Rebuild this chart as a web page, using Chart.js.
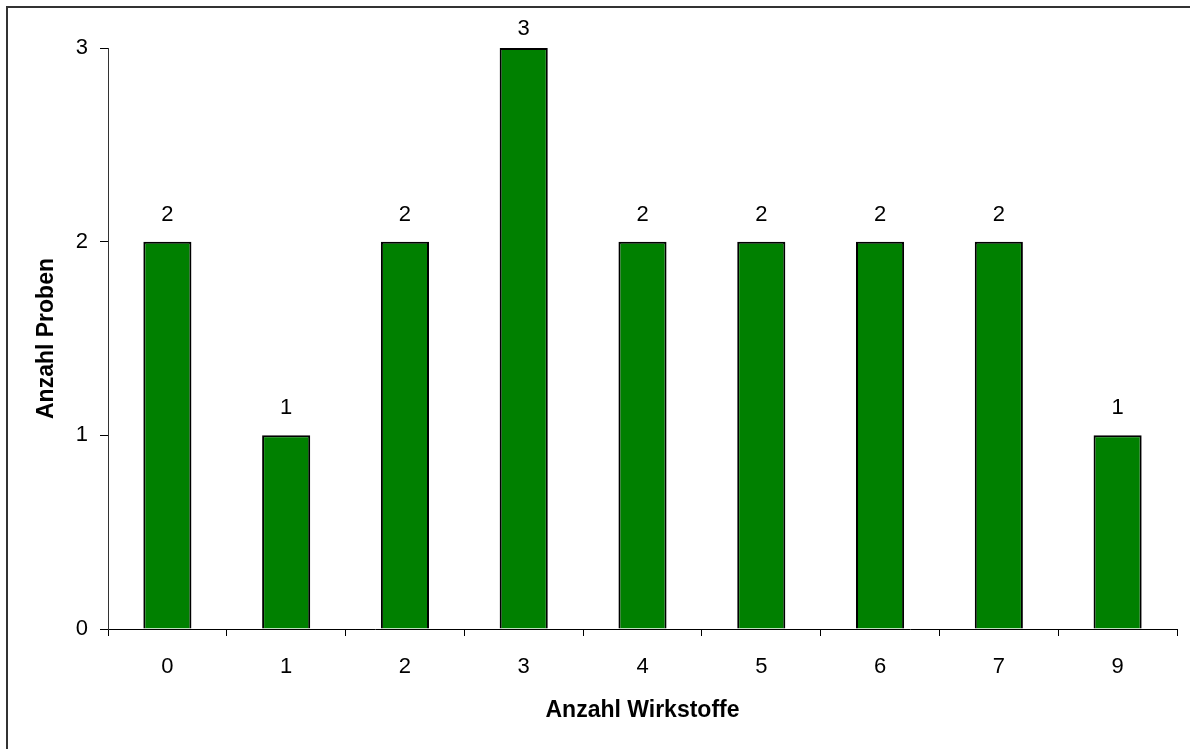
<!DOCTYPE html>
<html>
<head>
<meta charset="utf-8">
<script src="https://cdn.jsdelivr.net/npm/chart.js@4/dist/chart.umd.min.js"></script>
<style>
  html, body { margin: 0; padding: 0; background: #fff; }
  canvas { display: block; }
</style>
</head>
<body>
<canvas id="chart" width="1190" height="749"></canvas>
<script>
const categories = ['0', '1', '2', '3', '4', '5', '6', '7', '9']
const probenCounts = [2, 1, 2, 3, 2, 2, 2, 2, 1]
const yTicks = [0, 1, 2, 3]

const fontFamily = "'Liberation Sans', Arial, sans-serif"

// outer frame, only top and left edges visible
const framePlugin = {
    id: 'frame',
    afterDraw(chart) {
        const ctx = chart.ctx
        ctx.save()
        ctx.strokeStyle = '#333'
        ctx.lineWidth = 2
        ctx.beginPath()
        ctx.moveTo(7, chart.height)
        ctx.lineTo(7, 7)
        ctx.lineTo(chart.width, 7)
        ctx.stroke()
        ctx.restore()
    }
}

// value above each bar (kept inside the frame at the top)
const valueLabels = {
    id: 'valueLabels',
    afterDatasetsDraw(chart) {
        const ctx = chart.ctx
        const meta = chart.getDatasetMeta(0)
        ctx.save()
        ctx.font = '22px ' + fontFamily
        ctx.fillStyle = '#000'
        ctx.textAlign = 'center'
        ctx.textBaseline = 'middle'
        meta.data.forEach((bar, i) => {
            const y = Math.max(bar.y - 27, chart.chartArea.top - 19)
            ctx.fillText(String(probenCounts[i]), bar.x, y)
        })
        ctx.restore()
    }
}

new Chart(document.getElementById('chart'), {
    type: 'bar',
    data: {
        labels: categories,
        datasets: [{
            label: 'Anzahl Proben',
            data: probenCounts,
            backgroundColor: '#008000',
            borderColor: '#000',
            borderWidth: 2,
            categoryPercentage: 1,
            barPercentage: 0.405
        }]
    },
    options: {
        responsive: false,
        animation: false,
        layout: { padding: { top: 48, right: 13, left: 0, bottom: 0 } },
        plugins: {
            legend: { display: false },
            tooltip: { enabled: false }
        },
        scales: {
            x: {
                afterFit(scale) { scale.height = 120 },
                grid: {
                    offset: true,
                    drawOnChartArea: false,
                    drawTicks: true,
                    tickLength: 7,
                    color: '#000'
                },
                border: { color: '#000', width: 1 },
                ticks: {
                    color: '#000',
                    padding: 18,
                    font: { family: fontFamily, size: 22 }
                },
                title: {
                    display: true,
                    text: 'Anzahl Wirkstoffe',
                    color: '#000',
                    padding: { top: 0, bottom: 25 },
                    font: { family: fontFamily, size: 23, weight: 'bold' }
                }
            },
            y: {
                min: yTicks[0],
                max: yTicks[yTicks.length - 1],
                afterFit(scale) { scale.width = 108 },
                afterBuildTicks(scale) { scale.ticks = yTicks.map(v => ({ value: v })) },
                grid: {
                    drawOnChartArea: false,
                    drawTicks: true,
                    tickLength: 8,
                    color: '#000'
                },
                border: { color: '#333', width: 1 },
                ticks: {
                    color: '#000',
                    padding: 12,
                    font: { family: fontFamily, size: 22 }
                },
                title: {
                    display: true,
                    text: 'Anzahl Proben',
                    color: '#000',
                    padding: { top: 33, bottom: 0 },
                    font: { family: fontFamily, size: 23, weight: 'bold' }
                }
            }
        }
    },
    plugins: [framePlugin, valueLabels]
})
</script>
</body>
</html>
